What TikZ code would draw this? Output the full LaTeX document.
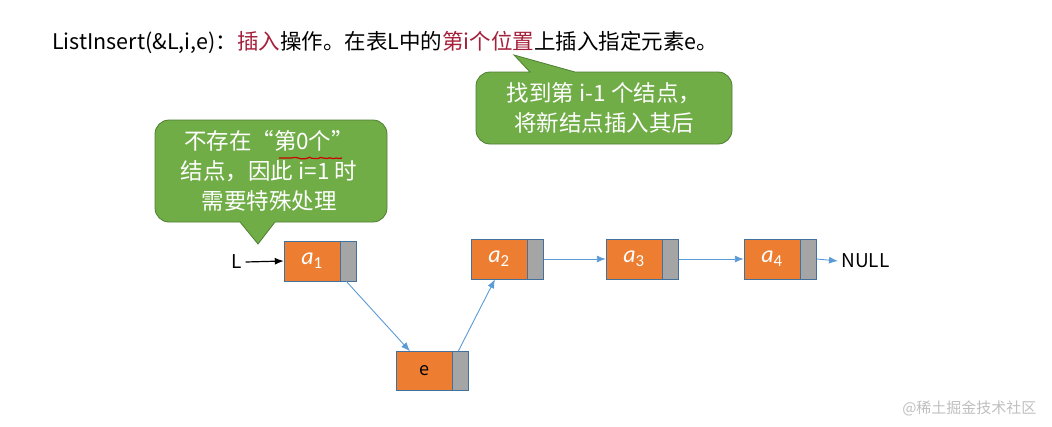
\documentclass[tikz,border=0pt]{standalone}
\usepackage{fontspec}
\setmainfont{Noto Sans CJK SC}
\newfontfamily\lat{Carlito}
\usetikzlibrary{decorations.pathmorphing,arrows.meta}
\definecolor{org}{HTML}{ED7D31}
\definecolor{gry}{HTML}{A5A5A5}
\definecolor{bord}{HTML}{41719C}
\definecolor{grn}{HTML}{70AD47}
\definecolor{grnb}{HTML}{507E32}
\definecolor{blu}{HTML}{5B9BD5}
\definecolor{rd}{HTML}{A5203A}
\tikzset{
  datapart/.style={fill=org,draw=bord,minimum width=56pt,minimum height=40pt,inner sep=0pt,text=white,font=\lat\fontsize{24}{26}\selectfont\itshape},
  ptrpart/.style={fill=gry,draw=bord,minimum width=16pt,minimum height=40pt,inner sep=0pt},
  link/.style={blu,-{Latex[length=9pt,width=7pt]},line width=0.9pt},
  bubble/.style={fill=grn,draw=grnb,line width=0.8pt},
  btext/.style={text=white,font=\fontsize{22.5}{30}\selectfont,align=center}
}
\begin{document}
\begin{tikzpicture}[x=1pt,y=-1pt]
\useasboundingbox (0,0) rectangle (1052,426);
\node[anchor=west,font=\fontsize{21.5}{24}\selectfont,inner sep=0pt] (title) at (52,42) {ListInsert(\&L,i,e)：\textcolor{rd}{插入}操作。在表L中的\textcolor{rd}{第i个位置}上插入指定元素e。};
% bubble 1
\draw[bubble] (258,244) -- (240,222) [rounded corners=14pt] -- (155,222) -- (155,120) -- (387,120) -- (387,222) [sharp corners] -- (275,222) -- cycle;
\node[btext] (b1) at (269,171) {不存在“第0个”\\结点，因此 i=1 时\\需要特殊处理};
\draw[red!80!black,line width=1.2pt,decorate,decoration={random steps,segment length=3pt,amplitude=0.8pt}] (279,158) -- (342,158);
% bubble 2
\draw[bubble] (514,55) -- (575,72) [rounded corners=14pt] -- (732,72) -- (732,144) -- (476,144) -- (476,72) [sharp corners] -- (530,72) -- cycle;
\node[btext] (b2) at (604,108) {找到第 i-1 个结点，\\将新结点插入其后};
% nodes
\node[datapart] (a1) at (312,261) {a\textsubscript{\upshape 1}};
\node[ptrpart,anchor=west] (p1) at (a1.east) {};
\node[datapart] (a2) at (499,259) {a\textsubscript{\upshape 2}};
\node[ptrpart,anchor=west] (p2) at (a2.east) {};
\node[datapart] (a3) at (634,259) {a\textsubscript{\upshape 3}};
\node[ptrpart,anchor=west] (p3) at (a3.east) {};
\node[datapart] (a4) at (772,259) {a\textsubscript{\upshape 4}};
\node[ptrpart,anchor=west] (p4) at (a4.east) {};
\node[datapart,minimum height=39pt,font=\fontsize{18}{22}\selectfont] (e) at (424,371) {\textcolor{black}{e}};
\node[ptrpart,anchor=west,minimum height=39pt] (pe) at (e.east) {};
\node[font=\fontsize{19}{22}\selectfont] (L) at (237,262) {L};
\node[font=\fontsize{19}{22}\selectfont,anchor=west] (null) at (838,261) {NULL};
\draw[-{Latex[length=9pt,width=7pt]},line width=1.2pt] (L.east) -- (a1.west);
\draw[link] (p2.east) -- (a3.west);
\draw[link] (p3.east) -- (a4.west);
\draw[link] (p4.east) -- (null.west);
\draw[link] (p1.south west) ++(6,0) -- ([xshift=-14pt]e.north);
\draw[link] ([xshift=6pt]pe.north west) -- ([xshift=-4pt]a2.south);
\node[text=gray!50,font=\fontsize{15}{18}\selectfont,anchor=east] (wm) at (1040,408) {@稀土掘金技术社区};
\end{tikzpicture}
\end{document}
